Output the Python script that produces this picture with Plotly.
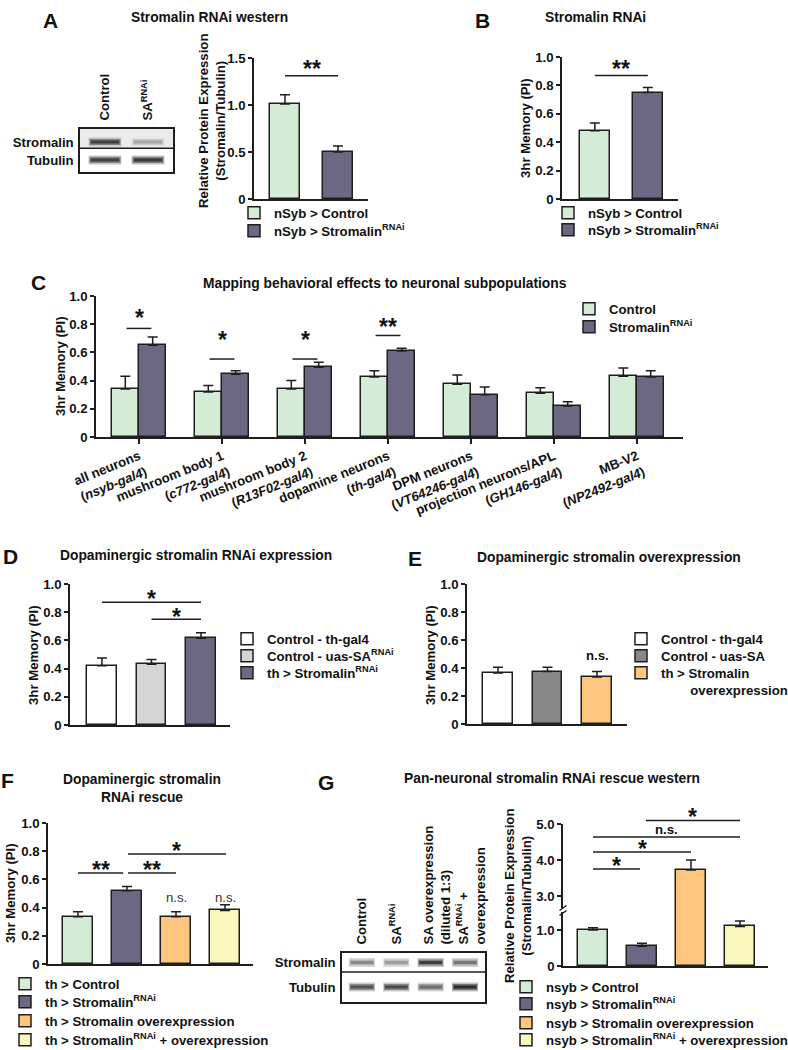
import plotly.graph_objects as go

W, H = 788, 1050
FONT = "Liberation Sans, Arial, sans-serif"
EDGE = "#1e1e1e"
GREEN = "#d4ecd5"
PURPLE = "#6c6884"
ORANGE = "#fdc57d"
YELLOW = "#faf7bc"
LGRAY = "#d5d5d5"
DGRAY = "#878787"
WHITE = "#ffffff"
FS = 13.2
TS = 13.8

# ---------------- data ----------------
# Panel A
A_names = ["nSyb > Control", "nSyb > Stromalin<sup>RNAi</sup>"]
A_values = [1.01, 0.50]
A_errors = [0.10, 0.065]
A_sig = [(0, 1, 1.31, "**", 1.44)]
A_lanes = ["Control", "SA<sup>RNAi</sup>"]
A_rows = ["Stromalin", "Tubulin"]
A_band_stromalin = [0.85, 0.30]
A_band_tubulin = [0.85, 0.88]

# Panel B
B_names = ["nSyb > Control", "nSyb > Stromalin<sup>RNAi</sup>"]
B_values = [0.48, 0.75]
B_errors = [0.055, 0.035]
B_sig = [(0, 1, 0.87, "**", 0.953)]

# Panel C
C_groups = [
    "all neurons<br>(<i>nsyb-gal4</i>)",
    "mushroom body 1<br>(<i>c772-gal4</i>)",
    "mushroom body 2<br>(<i>R13F02-gal4</i>)",
    "dopamine neurons<br>(<i>th-gal4</i>)",
    "DPM neurons<br>(<i>VT64246-gal4</i>)",
    "projection neurons/APL<br>(<i>GH146-gal4</i>)",
    "MB-V2<br>(<i>NP2492-gal4</i>)",
]
C_series = ["Control", "Stromalin<sup>RNAi</sup>"]
C_control = [0.34, 0.32, 0.34, 0.425, 0.375, 0.31, 0.43]
C_control_err = [0.09, 0.045, 0.06, 0.045, 0.065, 0.04, 0.06]
C_rnai = [0.65, 0.445, 0.495, 0.61, 0.30, 0.22, 0.425]
C_rnai_err = [0.06, 0.025, 0.035, 0.02, 0.055, 0.03, 0.045]
C_sig = [(0, 0.77, "*", 0.88), (1, 0.553, "*", 0.72), (2, 0.553, "*", 0.72), (3, 0.72, "**", 0.815)]

# Panel D
D_names = ["Control - th-gal4", "Control - uas-SA<sup>RNAi</sup>", "th > Stromalin<sup>RNAi</sup>"]
D_values = [0.42, 0.43, 0.615]
D_errors = [0.055, 0.035, 0.04]
D_sig = [(0, 2, 0.87, "*", 0.93), (1, 2, 0.75, "*", 0.80)]

# Panel E
E_names = ["Control - th-gal4", "Control - uas-SA",
           "th > Stromalin<br>" + "\u00a0" * 8 + "overexpression"]
E_values = [0.365, 0.375, 0.335]
E_errors = [0.04, 0.03, 0.04]
E_ns = [(2, 0.49)]

# Panel F
F_names = ["th > Control", "th > Stromalin<sup>RNAi</sup>", "th > Stromalin overexpression",
           "th > Stromalin<sup>RNAi</sup> + overexpression"]
F_values = [0.335, 0.52, 0.335, 0.38]
F_errors = [0.035, 0.03, 0.035, 0.04]
F_sig = [(0, 0.92, 0.645, "**", 0.70), (1.02, 2.0, 0.645, "**", 0.70), (1.02, 3.02, 0.78, "*", 0.84)]
F_ns = [(2, 0.47), (3, 0.47)]

# Panel G
G_names = ["nsyb > Control", "nsyb > Stromalin<sup>RNAi</sup>", "nsyb > Stromalin overexpression",
           "nsyb > Stromalin<sup>RNAi</sup> + overexpression"]
G_values = [1.0, 0.55, 3.72, 1.1]
G_errors = [0.06, 0.08, 0.28, 0.15]
G_sig = [(0, 0.96, 3.75, "*", 3.97), (0, 2, 4.22, "*", 4.44), (0, 3, 4.64, "n.s.", 4.86),
         (1.08, 3, 5.1, "*", 5.33)]
G_lanes = ["Control", "SA<sup>RNAi</sup>", "SA overexpression<br>(diluted 1:3)",
           "SA<sup>RNAi</sup> +<br>overexpression"]
G_rows = ["Stromalin", "Tubulin"]
G_band_stromalin = [0.45, 0.35, 0.85, 0.55]
G_band_tubulin = [0.75, 0.80, 0.60, 0.95]

# ---------------- helpers ----------------
fig = go.Figure()
LAYOUT = {}
LEG = {"n": 0}


def aid(n):
    return "" if n == 1 else str(n)


def xdom(a, b):
    return [a / W, b / W]


def ydom(top, bottom):
    return [1 - bottom / H, 1 - top / H]


def px(x):
    return x / W


def py(y):
    return 1 - y / H


TICKFONT = dict(family=FONT, size=FS, color="#111", weight="bold")


def new_legend(text_left, center_y, valign="middle"):
    LEG["n"] += 1
    key = "legend" if LEG["n"] == 1 else "legend%d" % LEG["n"]
    LAYOUT[key] = dict(x=px(text_left - 38), y=py(center_y - 15.3), xanchor="left",
                       yanchor="top", bgcolor="rgba(0,0,0,0)", borderwidth=0,
                       tracegroupgap=0, valign=valign,
                       font=dict(family=FONT, size=FS, color="#111", weight="bold"))
    return key


def bar_axes(n, xd, yd, xr, yr, tickvals, ticktext):
    LAYOUT["xaxis" + aid(n)] = dict(domain=xd, anchor="y" + aid(n), range=xr, showline=True,
                                     linecolor=EDGE, linewidth=1.5, showgrid=False, zeroline=False,
                                     showticklabels=False, ticks="", fixedrange=True)
    LAYOUT["yaxis" + aid(n)] = dict(domain=yd, anchor="x" + aid(n), range=yr, showline=True,
                                     linecolor=EDGE, linewidth=1.5, showgrid=False, zeroline=False,
                                     ticks="outside", ticklen=4, tickwidth=1.5, tickcolor=EDGE,
                                     tickvals=tickvals, ticktext=ticktext, tickfont=TICKFONT,
                                     fixedrange=True)


def add_bars(n, values, errors, colors, names, legends, width, showlegend=True):
    for i, (v, e, c, nm) in enumerate(zip(values, errors, colors, names)):
        kw = dict(legend=legends[i]) if showlegend else {}
        fig.add_trace(go.Bar(
            x=[i], y=[v], width=width, name=nm, showlegend=showlegend,
            marker=dict(color=c, line=dict(color=EDGE, width=1.5)),
            error_y=dict(type="data", array=[e], arrayminus=[0], symmetric=False,
                         color=EDGE, thickness=1.5, width=5),
            xaxis="x" + aid(n), yaxis="y" + aid(n), hoverinfo="skip", **kw))


def add_sig(n, x0, x1, y, label, label_y, yref=None, xref=None):
    xr = xref or ("x" + aid(n))
    yr = yref or ("y" + aid(n))
    fig.add_shape(type="line", xref=xr, yref=yr, x0=x0, x1=x1, y0=y, y1=y,
                  line=dict(color=EDGE, width=1.5))
    if label == "n.s.":
        fig.add_annotation(xref=xr, yref=yr, x=(x0 + x1) / 2, y=label_y, text=label,
                           showarrow=False, yanchor="middle",
                           font=dict(family=FONT, size=FS, color="#111", weight="bold"))
    else:
        fig.add_annotation(xref=xr, yref=yr, x=(x0 + x1) / 2, y=label_y, text=label,
                           showarrow=False, yanchor="middle", yshift=-5,
                           font=dict(family=FONT, size=23, color="#111", weight="bold"))


def text(x, y, s, size=FS, angle=0, weight="bold", color="#111"):
    fig.add_annotation(xref="paper", yref="paper", x=px(x), y=py(y), text=s, showarrow=False,
                       xanchor="center", yanchor="middle", textangle=angle,
                       font=dict(family=FONT, size=size, color=color, weight=weight))


def blot(n, xd, yd, xr, yr, lanes, rows, row_y, bands, gray_row=None):
    # two-line lane labels sit a little to the right of their lane, as in the original
    label_pos = [i + (0.2 if "<br>" in lab else 0) for i, lab in enumerate(lanes)]
    LAYOUT["xaxis" + aid(n)] = dict(domain=xd, anchor="y" + aid(n), range=xr, side="top",
                                     showline=True, mirror=True, linecolor=EDGE, linewidth=1.5,
                                     showgrid=False, zeroline=False, ticks="",
                                     tickvals=label_pos, ticktext=lanes,
                                     tickangle=-90, tickfont=TICKFONT, ticklabelstandoff=4,
                                     fixedrange=True)
    LAYOUT["yaxis" + aid(n)] = dict(domain=yd, anchor="x" + aid(n), range=yr, showline=True,
                                     mirror=True, linecolor=EDGE, linewidth=1.5, showgrid=False,
                                     zeroline=False, ticks="", tickvals=row_y, ticktext=rows,
                                     tickfont=TICKFONT, ticklabelstandoff=2, fixedrange=True)
    if gray_row is not None:
        fig.add_shape(type="rect", xref="x" + aid(n) + " domain", yref="y" + aid(n),
                      x0=0, x1=1, y0=gray_row[0], y1=gray_row[1], fillcolor="#ebebeb",
                      line=dict(width=0), layer="below")
    fig.add_shape(type="line", xref="x" + aid(n) + " domain", yref="y" + aid(n),
                  x0=0, x1=1, y0=0.5, y1=0.5, line=dict(color=EDGE, width=1.5))
    for ry, inten in zip(row_y, bands):
        for lane, v in enumerate(inten):
            layers = ((9, int(248 - 60 * v), 0.38), (6, int(240 - 130 * v), 0.36),
                      (3, int(225 - 190 * v), 0.33))
            for wdt, g, half in layers:
                fig.add_trace(go.Scatter(
                    x=[lane - half, lane + half], y=[ry, ry], mode="lines",
                    line=dict(color=f"rgb({g},{g},{g})", width=wdt),
                    showlegend=False, hoverinfo="skip",
                    xaxis="x" + aid(n), yaxis="y" + aid(n)))


T5 = [0, 0.2, 0.4, 0.6, 0.8, 1.0]
T5txt = ["0", "0.2", "0.4", "0.6", "0.8", "1.0"]

# ---------------- Panel A ----------------
blot(1, xdom(80, 173), ydom(129, 172), [-0.58, 1.58], [-0.6, 1.4], A_lanes, A_rows,
     [0.795, -0.04], [A_band_stromalin, A_band_tubulin], gray_row=(0.5, 1.4))
bar_axes(2, xdom(254, 368), ydom(58, 199), [-0.585, 1.566], [0, 1.5],
         [0, 0.5, 1.0, 1.5], ["0", "0.5", "1.0", "1.5"])
add_bars(2, A_values, A_errors, [GREEN, PURPLE], A_names,
         [new_legend(272, 213), new_legend(272, 231)], 0.57)
for s in A_sig:
    add_sig(2, *s)
text(50, 20, "A", size=21)
text(209, 18, "Stromalin RNAi western", size=TS)
text(212, 121, "Relative Protein Expression<br>(Stromalin/Tubulin)", angle=-90)

# ---------------- Panel B ----------------
bar_axes(3, xdom(562, 678), ydom(57, 199), [-0.62, 1.57], [0, 1.0], T5, T5txt)
add_bars(3, B_values, B_errors, [GREEN, PURPLE], B_names,
         [new_legend(586, 213), new_legend(586, 230)], 0.57)
for s in B_sig:
    add_sig(3, *s)
text(482, 20, "B", size=21)
text(595, 18, "Stromalin RNAi", size=TS)
text(525, 128, "3hr Memory (PI)", angle=-90)

# ---------------- Panel C ----------------
bar_axes(4, xdom(96, 683), ydom(296, 437), [-0.518, 6.554], [0, 1.0], T5, T5txt)
LAYOUT["xaxis4"].update(showticklabels=True, ticks="outside", ticklen=5, tickwidth=1.5,
                        tickcolor=EDGE, tickvals=list(range(len(C_groups))), ticktext=C_groups,
                        tickangle=-22, tickfont=TICKFONT)
xs = list(range(len(C_groups)))
fig.add_trace(go.Bar(x=xs, y=C_control, width=0.33, offset=-0.33, name=C_series[0],
                     legend=new_legend(607, 309),
                     marker=dict(color=GREEN, line=dict(color=EDGE, width=1.5)),
                     error_y=dict(type="data", array=C_control_err, arrayminus=[0] * 7,
                                  symmetric=False, color=EDGE, thickness=1.5, width=5),
                     xaxis="x4", yaxis="y4", hoverinfo="skip"))
fig.add_trace(go.Bar(x=xs, y=C_rnai, width=0.33, offset=0, name=C_series[1],
                     legend=new_legend(607, 327),
                     marker=dict(color=PURPLE, line=dict(color=EDGE, width=1.5)),
                     error_y=dict(type="data", array=C_rnai_err, arrayminus=[0] * 7,
                                  symmetric=False, color=EDGE, thickness=1.5, width=5),
                     xaxis="x4", yaxis="y4", hoverinfo="skip"))
for g, ly, lab, sy in C_sig:
    add_sig(4, g - 0.15, g + 0.15, ly, lab, sy)
text(38, 282, "C", size=21)
text(385, 283, "Mapping behavioral effects to neuronal subpopulations", size=TS)
text(61, 366, "3hr Memory (PI)", angle=-90)

# ---------------- Panel D ----------------
bar_axes(5, xdom(70, 230), ydom(584, 725), [-0.646, 2.586], [0, 1.0], T5, T5txt)
add_bars(5, D_values, D_errors, [WHITE, LGRAY, PURPLE], D_names,
         [new_legend(265, 639), new_legend(265, 656), new_legend(265, 673)], 0.6)
for s in D_sig:
    add_sig(5, *s)
text(10, 556, "D", size=21)
text(196, 555, "Dopaminergic stromalin RNAi expression", size=TS)
text(33, 655, "3hr Memory (PI)", angle=-90)

# ---------------- Panel E ----------------
bar_axes(6, xdom(467, 627), ydom(584, 724), [-0.626, 2.606], [0, 1.0], T5, T5txt)
add_bars(6, E_values, E_errors, [WHITE, DGRAY, ORANGE], E_names,
         [new_legend(659, 639), new_legend(659, 656), new_legend(659, 673, valign="top")], 0.6)
for i, yv in E_ns:
    fig.add_annotation(xref="x6", yref="y6", x=i, y=yv, text="n.s.", showarrow=False,
                       yanchor="middle", font=dict(family=FONT, size=FS, color="#111", weight="bold"))
text(415, 558, "E", size=21)
text(609, 557, "Dopaminergic stromalin overexpression", size=TS)
text(430, 655, "3hr Memory (PI)", angle=-90)

# ---------------- Panel F ----------------
bar_axes(7, xdom(48, 253), ydom(823, 964), [-0.612, 3.571], [0, 1.0], T5, T5txt)
add_bars(7, F_values, F_errors, [GREEN, PURPLE, ORANGE, YELLOW], F_names,
         [new_legend(43, 984), new_legend(43, 1002), new_legend(43, 1021), new_legend(43, 1040)],
         0.6)
for s in F_sig:
    add_sig(7, *s)
for i, yv in F_ns:
    fig.add_annotation(xref="x7", yref="y7", x=i, y=yv, text="n.s.", showarrow=False,
                       yanchor="middle", font=dict(family=FONT, size=FS, color="#333", weight="normal"))
text(8, 780, "F", size=21)
text(142, 788, "Dopaminergic stromalin<br>RNAi rescue", size=TS)
text(10, 893, "3hr Memory (PI)", angle=-90)

# ---------------- Panel G ----------------
blot(8, xdom(342, 485), ydom(953, 1002), [-0.58, 3.58], [-1.08, 1.5], G_lanes, G_rows,
     [1.0, -0.29], [G_band_stromalin, G_band_tubulin])
# lower segment of the broken axis
bar_axes(9, xdom(563, 768), ydom(910, 966), [-0.612, 3.571], [0, 1.556], [0, 1.0], ["0", "1.0"])
add_bars(9, G_values, G_errors, [GREEN, PURPLE, ORANGE, YELLOW], G_names,
         [new_legend(544, 987), new_legend(544, 1004), new_legend(544, 1023), new_legend(544, 1040)],
         0.6)
# upper segment
bar_axes(10, xdom(563, 768), ydom(824, 910), [-0.612, 3.571], [2.611, 5.0],
         [3.0, 4.0, 5.0], ["3.0", "4.0", "5.0"])
LAYOUT["xaxis10"]["visible"] = False
add_bars(10, G_values, G_errors, [GREEN, PURPLE, ORANGE, YELLOW], G_names, None, 0.6,
         showlegend=False)
# hidden axis with the same scale for the comparison brackets above the top tick
LAYOUT["yaxis11"] = dict(domain=ydom(800, 910), anchor="x10", range=[2.611, 2.611 + 110 / 36],
                         visible=False, fixedrange=True)
for x0, x1, ly, lab, sy in G_sig:
    add_sig(None, x0, x1, ly, lab, sy, yref="y11", xref="x10")
# axis break marks
fig.add_shape(type="rect", xref="paper", yref="paper", x0=px(560), x1=px(566), y0=py(912),
              y1=py(908), fillcolor="white", line=dict(width=0))
for yb in (908, 913):
    fig.add_shape(type="line", xref="paper", yref="paper", x0=px(559.5), x1=px(566.5),
                  y0=py(yb + 2.5), y1=py(yb - 2.5), line=dict(color=EDGE, width=1.5))
text(326, 782, "G", size=21)
text(552, 778, "Pan-neuronal stromalin RNAi rescue western", size=TS)
text(518, 896, "Relative Protein Expression<br>(Stromalin/Tubulin)", angle=-90)

fig.update_layout(
    width=W, height=H, autosize=False,
    margin=dict(l=0, r=0, t=0, b=0, autoexpand=False),
    paper_bgcolor="white", plot_bgcolor="rgba(0,0,0,0)",
    barmode="overlay", bargap=0, hovermode=False,
    font=dict(family=FONT, size=FS, color="#111", weight="bold"),
    **LAYOUT,
)

fig.write_html("out.html", config={"displayModeBar": False},
               post_script="document.body.style.margin='0px';document.body.style.padding='0px';")
